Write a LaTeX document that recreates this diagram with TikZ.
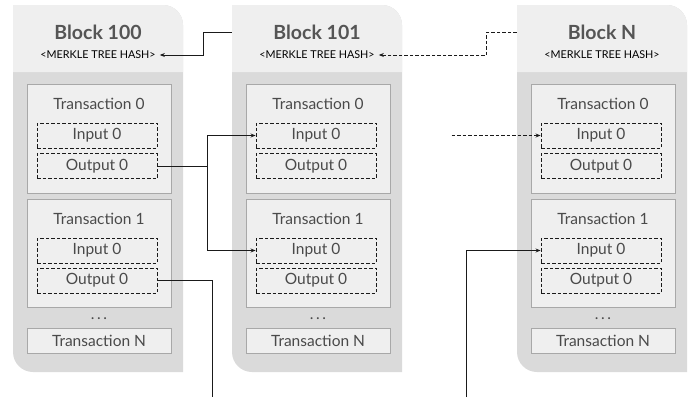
\documentclass[tikz,border=0pt]{standalone}
\usepackage{fontspec}
\setmainfont{Lato}
\usetikzlibrary{arrows.meta}
\definecolor{hdr}{HTML}{EFEFEF}
\definecolor{bdy}{HTML}{DADADA}
\definecolor{txf}{HTML}{EFEFEF}
\definecolor{txd}{HTML}{A8A8A8}
\definecolor{ink}{HTML}{4A4A4A}
\definecolor{ttl}{HTML}{555555}
\definecolor{lin}{HTML}{1A1A1A}
\tikzset{
  txbox/.style={draw=txd, fill=txf, line width=1pt, inner sep=0pt, minimum width=144pt},
  iobox/.style={draw=lin, dash pattern=on 3.5pt off 2pt, line width=0.9pt, minimum width=120pt, minimum height=25pt, inner sep=0pt, font=\fontsize{15.5}{17}\selectfont, text=ink},
  lbl/.style={inner sep=0pt, font=\fontsize{15.5}{17}\selectfont, text=ink},
  ttlnode/.style={inner sep=0pt, font=\bfseries\fontsize{19.5}{21}\selectfont, text=ttl},
  merkle/.style={inner sep=0pt, font=\fontsize{10.8}{12}\selectfont, text=black},
  hdrbox/.style={inner sep=0pt, minimum width=170pt, minimum height=67pt},
  conn/.style={draw=lin, line width=1pt},
  tip/.style={-{Stealth[length=5pt,width=4pt]}},
}
\newcommand\drawblock[3]{%
  \fill[bdy] (#1,5) -- ({#1+150},5) arc[start angle=-90,end angle=0,radius=20] -- ({#1+170},372) -- ({#1+20},372) arc[start angle=90,end angle=180,radius=20] -- cycle;
  \fill[hdr] (#1,5) -- ({#1+150},5) arc[start angle=-90,end angle=0,radius=20] -- ({#1+170},72) -- (#1,72) -- cycle;
  \node[hdrbox] (h#2) at ({#1+85},38.5) {};
  \node[ttlnode] (t#2) at ({#1+85},32) {#3};
  \node[merkle] (m#2) at ({#1+85},55) {<MERKLE TREE HASH>};
  \node[txbox, minimum height=109pt] (x#2a) at ({#1+86},138.5) {};
  \node[lbl] (l#2a) at ({#1+86},104) {Transaction 0};
  \node[iobox] (i#2a) at ({#1+84},135.5) {Input 0};
  \node[iobox] (o#2a) at ({#1+84},166) {Output 0};
  \node[txbox, minimum height=108pt] (x#2b) at ({#1+86},253) {};
  \node[lbl] (l#2b) at ({#1+86},219) {Transaction 1};
  \node[iobox] (i#2b) at ({#1+84},250.5) {Input 0};
  \node[iobox] (o#2b) at ({#1+84},280.5) {Output 0};
  \node[lbl] (d#2) at ({#1+86},318.5) {.\,.\,.};
  \node[txbox, minimum height=25pt, lbl] (n#2) at ({#1+86},340.5) {Transaction N};
}
\begin{document}
\begin{tikzpicture}[x=1pt,y=-1pt]
\useasboundingbox (0,0) rectangle (688,397);
\drawblock{13}{A}{Block 100}
\drawblock{232}{B}{Block 101}
\drawblock{517}{N}{Block N}
% merkle links
\draw[conn,tip] (tB -| hB.west) -- ++(-28,0) |- ([xshift=4pt]mA.east);
\draw[conn,tip,dash pattern=on 3.5pt off 2pt] (tN -| hN.west) -- ++(-30,0) |- ([xshift=4pt]mB.east);
% output -> input links
\draw[conn,tip] (oAa.east) -- ++(50,0) |- (iBa.west);
\draw[conn,tip] ([xshift=50pt]oAa.east) |- (iBb.west);
\coordinate (e1) at (212,397);
\draw[conn] (oAb.east) -| (e1);
\coordinate (e2) at (466,397);
\draw[conn,tip] (e2) |- (iNb.west);
\coordinate (s1) at ([xshift=-89pt]iNa.west);
\draw[conn,tip,dash pattern=on 3.5pt off 2pt] (s1) -- (iNa.west);
\end{tikzpicture}
\end{document}
